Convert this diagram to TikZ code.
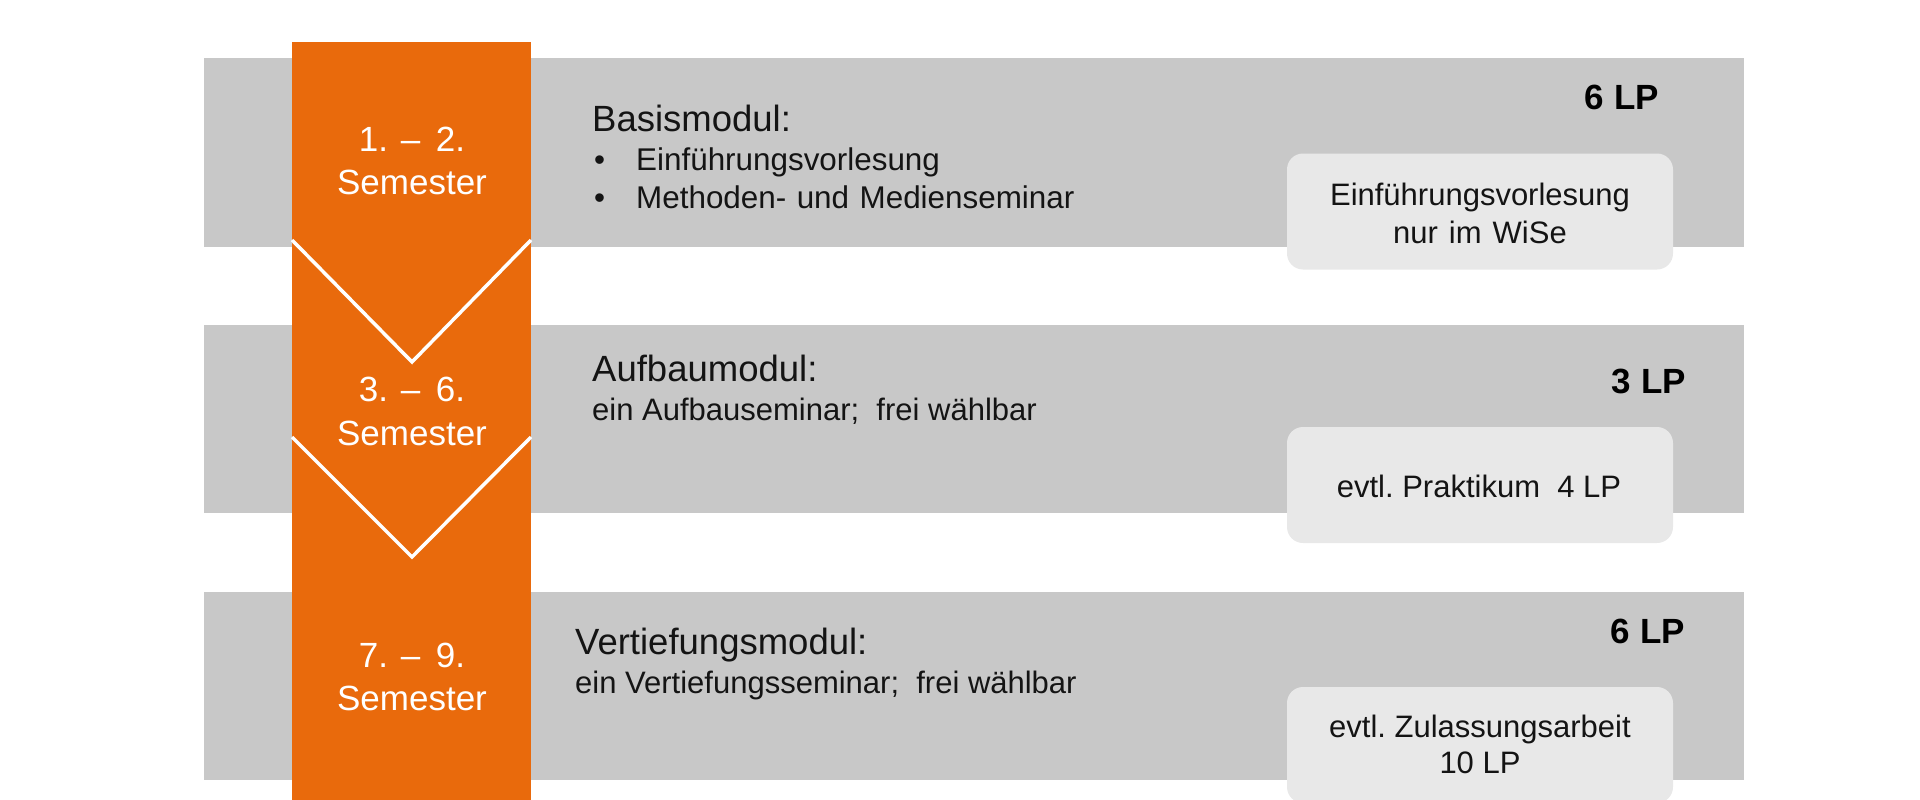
\documentclass[tikz,border=0pt]{standalone}
\usepackage{fontspec}
\setmainfont{Liberation Sans}
\definecolor{orng}{RGB}{233,106,12}
\definecolor{bargray}{RGB}{200,200,200}
\definecolor{boxgray}{RGB}{232,232,232}
\definecolor{txt}{RGB}{20,20,20}
\tikzset{
  bar/.style={fill=bargray, draw=none, minimum width=1540pt, inner sep=0pt, outer sep=0pt},
  col/.style={fill=orng, draw=none, minimum width=239pt, minimum height=760pt, inner sep=0pt},
  chev/.style={draw=white, line width=3.5pt, line join=miter},
  lbox/.style={fill=boxgray, draw=none, rounded corners=16pt, minimum width=386pt, minimum height=116pt, inner sep=0pt},
  btxt/.style={anchor=base, inner sep=0pt, text=txt, font=\fontsize{31}{37}\selectfont},
  head/.style={anchor=base west, inner sep=0pt, text=txt, font=\fontsize{36.5}{42}\selectfont},
  sub/.style={anchor=base west, inner sep=0pt, text=txt, font=\fontsize{31}{36}\selectfont},
  item/.style={anchor=base west, inner sep=0pt, text=txt, font=\fontsize{31.4}{36}\selectfont},
  sem/.style={anchor=base, inner sep=0pt, text=white, font=\fontsize{35}{42}\selectfont},
  lp/.style={anchor=base east, inner sep=0pt, text=black, font=\fontsize{35}{42}\selectfont\bfseries}
}
\begin{document}
\begin{tikzpicture}[x=1pt,y=-1pt]
\useasboundingbox (0,0) rectangle (1920,800);
\clip (0,0) rectangle (1920,800);
% gray bars
\node[bar, minimum height=189pt] (bar1) at (974,152.5) {};
\node[bar, minimum height=188pt] (bar2) at (974,419) {};
\node[bar, minimum height=188pt] (bar3) at (974,686) {};
% orange column
\node[col] (column) at (411.5,422) {};
% chevron outlines
\draw[chev] (292,240) -- (412,362) -- (531,240);
\draw[chev] (292,437) -- (412,557) -- (531,437);
% semester labels
\node[sem] (s1a) at (412,151) {1. –\, 2.};
\node[sem] (s1b) at (412,194) {Semester};
\node[sem] (s2a) at (412,401) {3. –\, 6.};
\node[sem] (s2b) at (412,445) {Semester};
\node[sem] (s3a) at (412,667) {7. –\, 9.};
\node[sem] (s3b) at (412,710) {Semester};
% module texts
\node[head] (h1) at (592,131) {Basismodul:};
\node[item] (b1) at (594,170) {•};
\node[item] (i1) at (636,170) {Einführungsvorlesung};
\node[item] (b2) at (594,208) {•};
\node[item] (i2) at (636,208) {Methoden-\hspace{10.5pt}und\hspace{10.5pt}Medienseminar};
\node[head] (h2) at (592,381) {Aufbaumodul:};
\node[sub] (t2) at (592,420) {ein Aufbauseminar;\ \ frei wählbar};
\node[head] (h3) at (575,654) {Vertiefungsmodul:};
\node[sub] (t3) at (575,693) {ein Vertiefungsseminar;\ \ frei wählbar};
% LP labels
\node[lp] (lp1) at (1659,110) {6 LP};
\node[lp] (lp2) at (1686,393) {3 LP};
\node[lp] (lp3) at (1685,643) {6 LP};
% light boxes
\node[lbox] (n1) at (1480,211.5) {};
\node[lbox] (n2) at (1480,485) {};
\node[lbox] (n3) at (1480,745) {};
\node[btxt] (n1a) at (1480,205) {Einführungsvorlesung};
\node[btxt] (n1b) at (1480,243) {nur\hspace{11pt}im\hspace{11pt}WiSe};
\node[btxt] (n2a) at (1479,497) {evtl.\ Praktikum\ \ 4 LP};
\node[btxt] (n3a) at (1480,737) {evtl.\ Zulassungsarbeit};
\node[btxt] (n3b) at (1480,773) {10 LP};
\end{tikzpicture}
\end{document}
